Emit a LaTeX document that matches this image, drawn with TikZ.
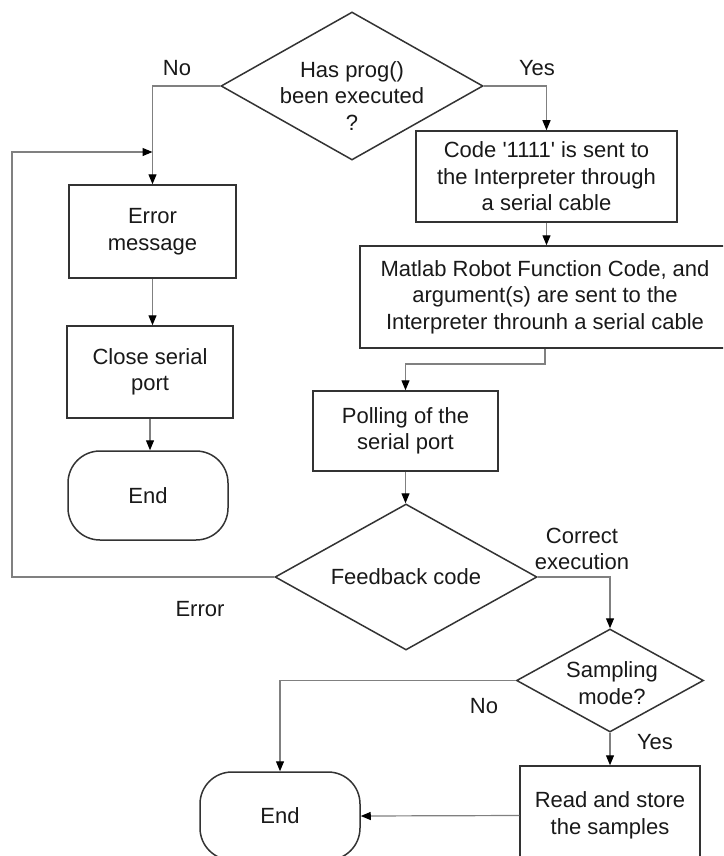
\documentclass[tikz,border=0pt]{standalone}
\usepackage{fontspec}
\setmainfont{Liberation Sans}
\usetikzlibrary{shapes.geometric,arrows.meta}
\begin{document}
\begin{tikzpicture}[x=1pt,y=-1pt,
  every node/.style={font=\fontsize{22}{26.5}\selectfont, text=black!90, align=center},
  stepbox/.style={draw=black!80, line width=1.5pt, rectangle, inner sep=0pt},
  decision/.style={draw=black!80, line width=1.5pt, diamond, inner sep=0pt},
  terminal/.style={draw=black!80, line width=1.5pt, rectangle, rounded corners=32pt, inner sep=0pt,
    minimum width=160pt, minimum height=89pt},
  flow/.style={draw=black!50, line width=1.2pt, -{Stealth[length=10pt,width=8pt,inset=0pt,black]}},
  tag/.style={inner sep=0pt}
]
\useasboundingbox (0,0) rectangle (723,856);
\fill[white] (0,0) rectangle (723,856);
\clip (0,0) rectangle (723,856);

% decisions
\node[decision, minimum width=262pt, minimum height=148pt] (d1) at (352,86) {};
\node[tag] at (352,96) {Has prog()\\been executed\\?};
\node[decision, minimum width=262pt, minimum height=146pt] (d2) at (406,577) {};
\node[tag] at (406,577) {Feedback code};
\node[decision, minimum width=187pt, minimum height=103pt] (d3) at (610,680.5) {};
\node[tag] at (612,683) {Sampling\\mode?};

% left branch
\node[stepbox, minimum width=167pt, minimum height=93pt] (err) at (152.5,231.5) {Error\\message};
\node[stepbox, minimum width=166pt, minimum height=92pt] (close) at (150,372) {Close serial\\port};
\node[terminal] (end1) at (148,495.5) {End};

% right branch
\node[stepbox, minimum width=261pt, minimum height=91pt] (code) at (546.5,176.5) {Code \textquotesingle 1111\textquotesingle{} is sent to\\the Interpreter through\\a serial cable};
\node[stepbox, minimum width=370pt, minimum height=102pt] (matlab) at (545,297) {Matlab Robot Function Code, and\\argument(s) are sent to the\\Interpreter throunh a serial cable};
\node[stepbox, minimum width=185pt, minimum height=80pt] (poll) at (405.5,431) {Polling of the\\serial port};
\node[stepbox, minimum width=180pt, minimum height=99pt] (read) at (610,815.5) {Read and store\\the samples};
\node[terminal, minimum height=88pt] (end2) at (280,816) {End};

% loop-back corner points
\coordinate (lc) at (12,152);
\coordinate (lj) at (152.5,152);
\coordinate (mj) at (545,364);

% connectors
\draw[flow] (d1.west) -| (err.north);
\draw[flow] (err.south) -- (err.south |- close.north);
\draw[flow] (close.south) -- (close.south |- end1.north);
\draw[flow] (d1.east) -| (code.north);
\draw[flow] (code.south) -- (code.south |- matlab.north);
\draw[flow] (matlab.south) -- (mj) -| (poll.north);
\draw[flow] (poll.south) -- (poll.south |- d2.north);
\draw[flow] (d2.west) -| (lc) -- (lj);
\draw[flow] (d2.east) -| (d3.north);
\draw[flow] (d3.west) -| (end2.north);
\draw[flow] (d3.south) -- (read.north);
\draw[flow] (read.west) -- (end2.east);

% branch labels
\node[tag] (lno1) at (177,68) {No};
\node[tag] (lyes1) at (537,68) {Yes};
\node[tag] (lerr) at (200,609) {Error};
\node[tag] (lok) at (582,549) {Correct\\execution};
\node[tag] (lno2) at (484,706) {No};
\node[tag] (lyes2) at (655,742) {Yes};
\end{tikzpicture}
\end{document}
